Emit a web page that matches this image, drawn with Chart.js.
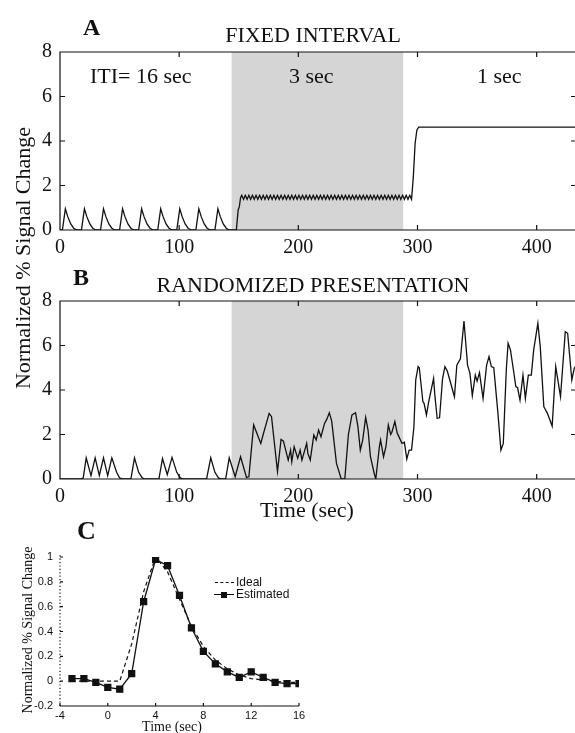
<!DOCTYPE html>
<html>
<head>
  <meta charset="UTF-8">
  <title>Fixed interval vs randomized presentation</title>
  <script src="https://cdn.jsdelivr.net/npm/chart.js"></script>
  <style>
    html, body {
      margin: 0;
      padding: 0;
      background: #fff;
      overflow: hidden;
    }
    body {
      position: relative;
      width: 575px;
      height: 733px;
      font-family: "Liberation Serif", "Times New Roman", serif;
      color: #111;
    }
    canvas {
      position: absolute;
      left: 0;
    }
    .lbl {
      position: absolute;
      line-height: 1;
      white-space: nowrap;
      pointer-events: none;
    }
    .panel { font-weight: bold; font-size: 24px; }
    .title { font-size: 22px; transform: translateX(-50%); }
    .region { font-size: 22px; }
    .rot { transform: translate(-50%, -50%) rotate(-90deg); }
    .legend {
      position: absolute;
      left: 214px;
      top: 576px;
      font-family: "Liberation Sans", Arial, sans-serif;
      font-size: 12px;
      line-height: 12px;
    }
    .legend .row { display: flex; align-items: center; height: 12px; }
    .legend .sym { position: relative; width: 20px; height: 12px; margin-right: 2px; }
    .legend .dash { position: absolute; left: 1px; right: 0; top: 6px; border-top: 1.3px dashed #111; }
    .legend .solid { position: absolute; left: 0; right: 0; top: 6px; border-top: 1.3px solid #111; }
    .legend .sq { position: absolute; left: 7px; top: 3.5px; width: 6px; height: 6px; background: #111; }
  </style>
</head>
<body>
  <canvas id="chartA" width="577" height="260" style="top:0px"></canvas>
  <canvas id="chartB" width="577" height="260" style="top:249px"></canvas>
  <canvas id="chartC" width="320" height="193" style="top:540px"></canvas>

  <div class="lbl panel" style="left:83px; top:15px;">A</div>
  <div class="lbl title" style="left:313px; top:24px;">FIXED INTERVAL</div>
  <div class="lbl region" style="left:90px; top:65px;">ITI= 16 sec</div>
  <div class="lbl region" style="left:289px; top:65px;">3 sec</div>
  <div class="lbl region" style="left:477px; top:65px;">1 sec</div>

  <div class="lbl panel" style="left:73px; top:265px;">B</div>
  <div class="lbl title" style="left:313px; top:274px;">RANDOMIZED PRESENTATION</div>

  <div class="lbl rot" style="left:23px; top:258px; font-size:22px;">Normalized % Signal Change</div>
  <div class="lbl" style="left:260px; top:499px; font-size:22px;">Time (sec)</div>

  <div class="lbl panel" style="left:77px; top:518px; font-size:26px;">C</div>
  <div class="lbl rot" style="left:28px; top:630px; font-size:14px;">Normalized % Signal Change</div>
  <div class="lbl" style="left:172px; top:720px; font-size:14px; transform:translateX(-50%);">Time (sec)</div>

  <div class="legend">
    <div class="row"><span class="sym"><span class="dash"></span></span>Ideal</div>
    <div class="row"><span class="sym"><span class="solid"></span><span class="sq"></span></span>Estimated</div>
  </div>

  <script>
    // stimulus blocks: ITI 16 s, then 3 s (shaded), then 1 s
    const shadeRange = [144, 288];
    const timeTicksAB = [0, 100, 200, 300, 400];
    const signalTicksAB = [0, 2, 4, 6, 8];

    // panel A: fixed interval response [time, signal]
    const fixedPoints = [
      [0, 0],
      [2, 0], [4.5, 0.95], [6.5, 0.6], [9, 0.27], [11.5, 0.08], [14, 0],
      [18, 0], [20.5, 0.95], [22.5, 0.6], [25, 0.27], [27.5, 0.08], [30, 0],
      [34, 0], [36.5, 0.95], [38.5, 0.6], [41, 0.27], [43.5, 0.08], [46, 0],
      [50, 0], [52.5, 0.95], [54.5, 0.6], [57, 0.27], [59.5, 0.08], [62, 0],
      [66, 0], [68.5, 0.95], [70.5, 0.6], [73, 0.27], [75.5, 0.08], [78, 0],
      [82, 0], [84.5, 0.95], [86.5, 0.6], [89, 0.27], [91.5, 0.08], [94, 0],
      [98, 0], [100.5, 0.95], [102.5, 0.6], [105, 0.27], [107.5, 0.08], [110, 0],
      [114, 0], [116.5, 0.95], [118.5, 0.6], [121, 0.27], [123.5, 0.08], [126, 0],
      [130, 0], [132.5, 0.95], [134.5, 0.6], [137, 0.27], [139.5, 0.08], [142, 0],
      [148, 0], [149.5, 0.9], [150.5, 1.05], [151.5, 1.45],
      [152.5, 1.56], [154, 1.38], [155.5, 1.56], [157, 1.38], [158.5, 1.56], [160, 1.38],
      [161.5, 1.56], [163, 1.38], [164.5, 1.56], [166, 1.38], [167.5, 1.56], [169, 1.38],
      [170.5, 1.56], [172, 1.38], [173.5, 1.56], [175, 1.38], [176.5, 1.56], [178, 1.38],
      [179.5, 1.56], [181, 1.38], [182.5, 1.56], [184, 1.38], [185.5, 1.56], [187, 1.38],
      [188.5, 1.56], [190, 1.38], [191.5, 1.56], [193, 1.38], [194.5, 1.56], [196, 1.38],
      [197.5, 1.56], [199, 1.38], [200.5, 1.56], [202, 1.38], [203.5, 1.56], [205, 1.38],
      [206.5, 1.56], [208, 1.38], [209.5, 1.56], [211, 1.38], [212.5, 1.56], [214, 1.38],
      [215.5, 1.56], [217, 1.38], [218.5, 1.56], [220, 1.38], [221.5, 1.56], [223, 1.38],
      [224.5, 1.56], [226, 1.38], [227.5, 1.56], [229, 1.38], [230.5, 1.56], [232, 1.38],
      [233.5, 1.56], [235, 1.38], [236.5, 1.56], [238, 1.38], [239.5, 1.56], [241, 1.38],
      [242.5, 1.56], [244, 1.38], [245.5, 1.56], [247, 1.38], [248.5, 1.56], [250, 1.38],
      [251.5, 1.56], [253, 1.38], [254.5, 1.56], [256, 1.38], [257.5, 1.56], [259, 1.38],
      [260.5, 1.56], [262, 1.38], [263.5, 1.56], [265, 1.38], [266.5, 1.56], [268, 1.38],
      [269.5, 1.56], [271, 1.38], [272.5, 1.56], [274, 1.38], [275.5, 1.56], [277, 1.38],
      [278.5, 1.56], [280, 1.38], [281.5, 1.56], [283, 1.38], [284.5, 1.56], [286, 1.38],
      [287.5, 1.56], [289, 1.38], [290.5, 1.56], [292, 1.38], [293.5, 1.56],
      [295, 1.38], [296.5, 2.4], [298, 3.9], [299.5, 4.5], [301, 4.62], [433, 4.62]
    ];

    // panel B: randomized presentation response [time, signal]
    const randomPoints = [
      [0, 0], [18, 0], [19.5, 0.05], [22, 0.95], [26, 0.15], [29.5, 0.95], [33, 0.15],
      [36.5, 0.95], [40, 0.15], [43.5, 0.95], [47.5, 0.3], [50, 0.05], [53, 0],
      [59.5, 0], [62.5, 0.95], [66, 0.3], [69, 0.05], [71, 0],
      [83, 0], [86, 0.92], [90, 0.2], [94, 0.97], [98, 0.3], [101, 0.05], [103, 0],
      [123, 0], [126.5, 0.95], [130, 0.3], [133, 0.05], [135, 0],
      [139, 0], [142, 0.95], [147, 0.1], [151.5, 1.0], [156.5, 0.07], [158.5, 0.1],
      [162.5, 2.43], [168.5, 1.6], [170.5, 2.0], [175.5, 2.95], [177.5, 2.8], [182.5, 0.33],
      [185.5, 1.78], [187.5, 1.7], [191.5, 0.85], [193.5, 1.3], [194.5, 0.78], [196.5, 1.45],
      [199.5, 0.93], [201.5, 1.3], [203, 0.85], [207, 1.6], [208, 1.15], [210, 0.85],
      [213, 1.98], [215, 1.75], [217, 2.2], [219, 1.9], [222, 2.5], [224, 2.7], [226, 2.98],
      [228, 2.6], [232, 0.7], [236, 0], [239, 0], [242, 2.0], [245, 2.88], [248, 2.98],
      [250, 2.35], [252, 1.3], [254, 1.75], [256.5, 2.77], [258.5, 2.2], [260.5, 1.0],
      [264, 0.18], [265, 0], [268, 1.45], [269, 1.75], [271.5, 1.0], [273.5, 1.45],
      [275.5, 2.43], [277.5, 2.0], [278.5, 2.1], [281, 2.58], [283, 2.05], [284, 1.95],
      [287, 1.6], [289, 1.65], [291, 0.9], [293, 1.3], [295, 1.3], [297, 2.35],
      [298.5, 4.45], [300.5, 5.05], [301.5, 5.0], [304.5, 3.48], [305.5, 3.4], [307.5, 2.88],
      [309.5, 3.5], [313.5, 4.52], [314.5, 3.8], [316.5, 2.73], [318.5, 2.75], [321, 4.5],
      [323, 5.05], [325, 4.85], [327.5, 4.37], [331, 3.7], [333, 5.12], [336, 5.4],
      [339, 7.1], [342, 5.12], [344, 4.75], [346, 3.75], [348.5, 4.67], [350, 4.4],
      [352, 4.78], [355, 3.62], [358, 5.12], [360, 5.5], [362, 5.05], [364, 5.0],
      [367.5, 2.95], [370, 1.3], [372, 1.6], [374.5, 4.9], [376, 6.1], [378, 5.8],
      [380.5, 4.9], [382.5, 4.15], [384, 4.1], [386, 3.55], [388.5, 4.67], [390.5, 3.62],
      [393, 4.67], [395.5, 4.67], [397.5, 5.8], [401, 7.0], [403, 5.95], [406, 3.25],
      [409, 2.95], [413, 2.38], [416, 5.05], [420, 3.7], [424, 6.62], [426, 6.55],
      [429.5, 4.45], [431.5, 4.97], [433, 5.1]
    ];

    // panel C: hemodynamic response estimate
    const lagTime = [-3, -2, -1, 0, 1, 2, 3, 4, 5, 6, 7, 8, 9, 10, 11, 12, 13, 14, 15, 16];
    const idealResponse = [0, 0, 0, 0, 0, 0.3, 0.72, 1.0, 0.88, 0.66, 0.44, 0.28, 0.17, 0.1, 0.05, 0.02, 0.01, 0, -0.01, -0.01];
    const estimatedResponse = [0.02, 0.02, -0.01, -0.05, -0.065, 0.06, 0.64, 0.98, 0.93, 0.69, 0.43, 0.24, 0.14, 0.075, 0.03, 0.075, 0.03, -0.01, -0.02, -0.02];

    const ink = '#111';
    const serifTicks = { family: '"Liberation Serif", "Times New Roman", serif', size: 20 };
    const sansTicks = { family: '"Liberation Sans", Arial, sans-serif', size: 11 };

    // shaded block + matlab style box with inward ticks
    const framePlugin = {
      id: 'frame',
      beforeDatasetsDraw(chart, args, opts) {
        if (!opts.shade) return;
        const { ctx, chartArea, scales } = chart;
        const x0 = scales.x.getPixelForValue(opts.shade[0]);
        const x1 = scales.x.getPixelForValue(opts.shade[1]);
        ctx.save();
        ctx.fillStyle = '#d5d5d5';
        ctx.fillRect(x0, chartArea.top, x1 - x0, chartArea.bottom - chartArea.top);
        ctx.restore();
      },
      afterDatasetsDraw(chart, args, opts) {
        const { ctx, chartArea: a, scales } = chart;
        const len = opts.tickLen || 5;
        ctx.save();
        ctx.strokeStyle = ink;
        ctx.lineWidth = 1.2;
        ctx.beginPath();
        if (opts.box) {
          ctx.moveTo(a.right, a.top);
          ctx.lineTo(a.left, a.top);
          ctx.lineTo(a.left, a.bottom);
          ctx.lineTo(a.right, a.bottom);
          ctx.lineTo(a.right, a.top);
        } else {
          ctx.moveTo(a.left, a.bottom);
          ctx.lineTo(a.right, a.bottom);
        }
        scales.x.ticks.forEach(t => {
          const px = scales.x.getPixelForValue(t.value);
          ctx.moveTo(px, a.bottom);
          ctx.lineTo(px, a.bottom - len);
          if (opts.box) {
            ctx.moveTo(px, a.top);
            ctx.lineTo(px, a.top + len);
          }
        });
        scales.y.ticks.forEach(t => {
          const py = scales.y.getPixelForValue(t.value);
          ctx.moveTo(a.left, py);
          ctx.lineTo(a.left + len, py);
          if (opts.box) {
            ctx.moveTo(a.right, py);
            ctx.lineTo(a.right - len, py);
          }
        });
        ctx.stroke();
        if (!opts.box) {
          ctx.beginPath();
          ctx.setLineDash([1.2, 2.2]);
          ctx.moveTo(a.left, a.bottom);
          ctx.lineTo(a.left, a.top - 2);
          ctx.stroke();
        }
        ctx.restore();
      }
    };

    function timeSeriesChart(id, points) {
      return new Chart(document.getElementById(id), {
        type: 'line',
        data: {
          datasets: [{
            data: points.map(p => ({ x: p[0], y: p[1] })),
            borderColor: ink,
            borderWidth: 1.3,
            pointRadius: 0,
            tension: 0,
            fill: false
          }]
        },
        options: {
          responsive: false,
          animation: false,
          layout: { padding: { top: 52, right: 1, left: 0, bottom: 0 } },
          plugins: {
            legend: { display: false },
            tooltip: { enabled: false },
            frame: { shade: shadeRange, box: true, tickLen: 5 }
          },
          scales: {
            x: {
              type: 'linear',
              min: 0,
              max: 433,
              grid: { display: false, drawTicks: false },
              border: { display: false },
              afterBuildTicks: s => { s.ticks = timeTicksAB.map(v => ({ value: v })); },
              ticks: { font: serifTicks, color: ink, padding: 6, maxRotation: 0 },
              afterFit: s => { s.height = 30; }
            },
            y: {
              min: 0,
              max: 8,
              grid: { display: false, drawTicks: false },
              border: { display: false },
              afterBuildTicks: s => { s.ticks = signalTicksAB.map(v => ({ value: v })); },
              ticks: { font: serifTicks, color: ink, padding: 8 },
              afterFit: s => { s.width = 60; }
            }
          }
        },
        plugins: [framePlugin]
      });
    }

    timeSeriesChart('chartA', fixedPoints);
    timeSeriesChart('chartB', randomPoints);

    new Chart(document.getElementById('chartC'), {
      type: 'line',
      data: {
        datasets: [{
          label: 'Ideal',
          data: lagTime.map((t, i) => ({ x: t, y: idealResponse[i] })),
          borderColor: ink,
          borderWidth: 1.2,
          borderDash: [4, 3],
          pointRadius: 0,
          tension: 0
        }, {
          label: 'Estimated',
          data: lagTime.map((t, i) => ({ x: t, y: estimatedResponse[i] })),
          borderColor: ink,
          backgroundColor: ink,
          borderWidth: 1.3,
          pointStyle: 'rect',
          pointRadius: 4.2,
          tension: 0
        }]
      },
      options: {
        responsive: false,
        animation: false,
        layout: { padding: { top: 17, right: 21, left: 0, bottom: 0 } },
        plugins: {
          legend: { display: false },
          tooltip: { enabled: false },
          frame: { box: false, tickLen: 3 }
        },
        scales: {
          x: {
            type: 'linear',
            min: -4,
            max: 16,
            grid: { display: false, drawTicks: false },
            border: { display: false },
            ticks: { stepSize: 4, font: sansTicks, color: ink, padding: 3, maxRotation: 0 },
            afterFit: s => { s.height = 27; }
          },
          y: {
            min: -0.2,
            max: 1,
            grid: { display: false, drawTicks: false },
            border: { display: false },
            ticks: {
              stepSize: 0.2,
              font: sansTicks,
              color: ink,
              padding: 7,
              callback: v => String(Math.round(v * 10) / 10 || 0)
            },
            afterFit: s => { s.width = 60; }
          }
        }
      },
      plugins: [framePlugin]
    });
  </script>
</body>
</html>
